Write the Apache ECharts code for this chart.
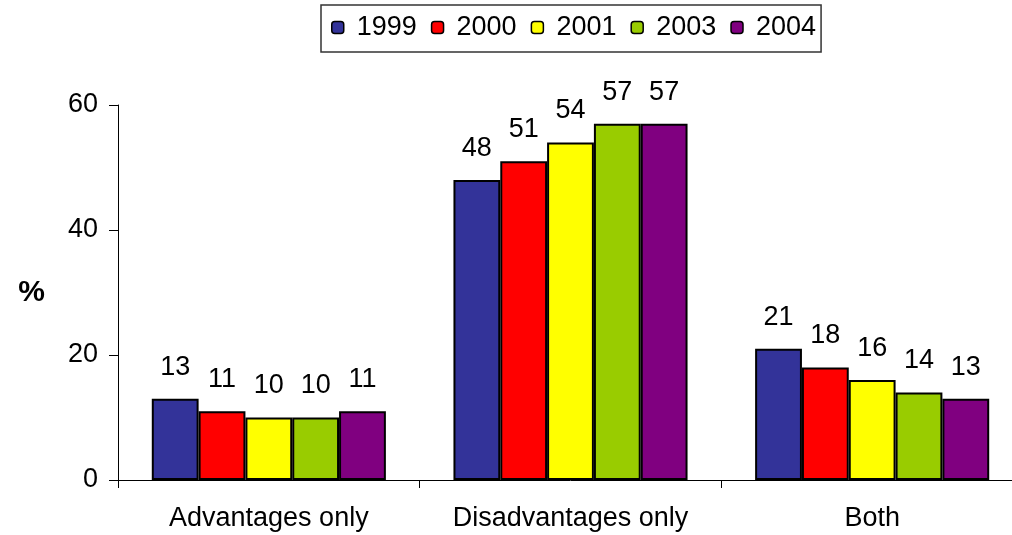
<!DOCTYPE html>
<html>
<head>
<meta charset="utf-8">
<script src="https://cdn.jsdelivr.net/npm/echarts@6/dist/echarts.min.js"></script>
<style>
html,body{margin:0;padding:0;background:#fff;overflow:hidden;width:1012px;height:535px;}
/* the plot area runs a little past the right edge of the window */
#chart{width:1023px;height:535px;}
</style>
</head>
<body>
<div id="chart"></div>
<script>
// Survey responses by category and year (percent)
const categories = ['Advantages only', 'Disadvantages only', 'Both'];
const years = ['1999', '2000', '2001', '2003', '2004'];
const values1999 = [13, 48, 21];
const values2000 = [11, 51, 18];
const values2001 = [10, 54, 16];
const values2003 = [10, 57, 14];
const values2004 = [11, 57, 13];
const yTicks = [0, 20, 40, 60];

const colors = ['#333399', '#FF0000', '#FFFF00', '#99CC00', '#800080'];
const seriesValues = [values1999, values2000, values2001, values2003, values2004];
const FONT = 'Liberation Sans, Arial, sans-serif';
const FS = 27;

const chart = echarts.init(document.getElementById('chart'));
chart.setOption({
  animation: false,
  textStyle: { fontFamily: FONT },
  legend: {
    top: 5,
    left: 321,
    data: years,
    itemWidth: 12,
    itemHeight: 12,
    itemGap: 14,
    padding: [9, 5, 11, 10],
    borderColor: '#333',
    borderWidth: 1.5,
    textStyle: { fontSize: FS, color: '#000', fontFamily: FONT, padding: [0, 0, 0, 8] },
    itemStyle: { borderColor: '#000', borderWidth: 1.5 }
  },
  grid: { left: 118, right: 0, top: 105, bottom: 55, containLabel: false },
  xAxis: {
    type: 'category',
    data: categories,
    axisLine: { lineStyle: { color: '#000', width: 1 } },
    axisTick: { show: true, interval: 0, alignWithLabel: false, length: 8, lineStyle: { color: '#000' } },
    axisLabel: { interval: 0, hideOverlap: false, fontSize: FS, color: '#000', margin: 25, fontFamily: FONT }
  },
  yAxis: {
    type: 'value',
    min: yTicks[0],
    max: yTicks[yTicks.length - 1],
    interval: 20,
    name: '%',
    nameLocation: 'middle',
    nameRotate: 0,
    nameGap: 73,
    nameTextStyle: { fontSize: 30, fontWeight: 'bold', color: '#000', fontFamily: FONT },
    splitLine: { show: false },
    axisLine: { show: true, lineStyle: { color: '#000', width: 1 } },
    axisTick: { show: true, length: 9, lineStyle: { color: '#000' } },
    axisLabel: { fontSize: FS, color: '#000', margin: 20, fontFamily: FONT }
  },
  series: years.map((y, i) => ({
    name: y,
    type: 'bar',
    data: seriesValues[i],
    barGap: '0%',
    barCategoryGap: '22.4%',
    itemStyle: { color: colors[i], borderColor: '#000', borderWidth: 2 },
    label: {
      show: true,
      position: 'top',
      distance: 18,
      fontSize: FS,
      color: '#000',
      fontFamily: FONT
    }
  }))
});
</script>
</body>
</html>
